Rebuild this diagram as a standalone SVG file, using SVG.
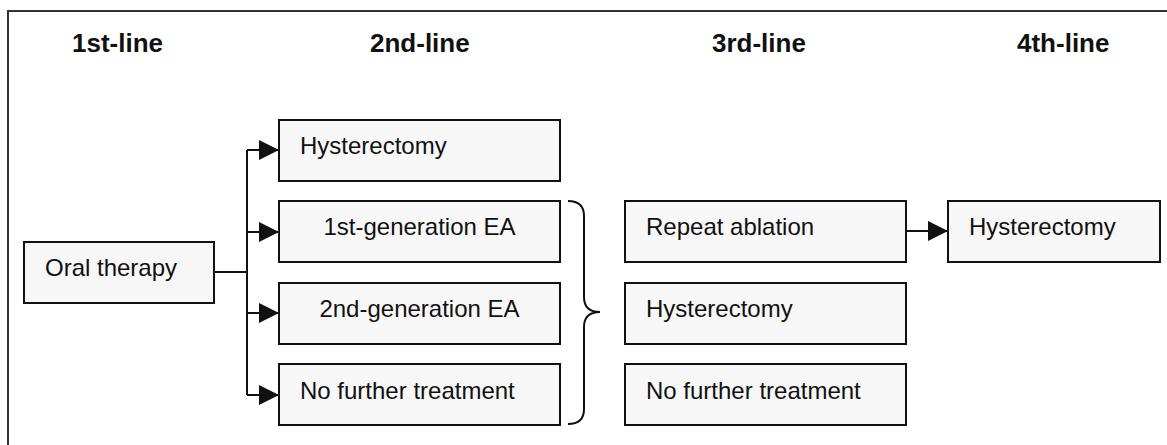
<svg xmlns="http://www.w3.org/2000/svg" width="1167" height="445" viewBox="0 0 1167 445">
<style>
.box{fill:#f7f7f7;stroke:#111;stroke-width:2}
.lbl{font-family:"Liberation Sans",Arial,sans-serif;font-size:24px;fill:#111}
.hdr{font-family:"Liberation Sans",Arial,sans-serif;font-size:26px;font-weight:bold;fill:#111}
.con{fill:none;stroke:#111;stroke-width:2}
</style>
<defs>
<marker id="arr" markerUnits="userSpaceOnUse" markerWidth="20" markerHeight="20" refX="20" refY="10" orient="auto">
<path d="M0,0 L20,10 L0,20 z" fill="#111"/>
</marker>
</defs>
<rect width="1167" height="445" fill="#fff"/>
<path d="M8,445 V11 H1167" fill="none" stroke="#333" stroke-width="2"/>
<g id="headers">
<text class="hdr" x="72" y="52">1st-line</text>
<text class="hdr" x="370" y="52">2nd-line</text>
<text class="hdr" x="712" y="52">3rd-line</text>
<text class="hdr" x="1017" y="52">4th-line</text>
</g>
<g id="oral"><rect class="box" x="24" y="242" width="190" height="61"/><text class="lbl" x="45" y="276">Oral therapy</text></g>
<g id="hyst2"><rect class="box" x="279" y="120" width="281" height="61"/><text class="lbl" x="300" y="154">Hysterectomy</text></g>
<g id="ea1"><rect class="box" x="279" y="201" width="281" height="61"/><text class="lbl" x="419.5" y="235" text-anchor="middle">1st-generation EA</text></g>
<g id="ea2"><rect class="box" x="279" y="283" width="281" height="61"/><text class="lbl" x="419.5" y="317" text-anchor="middle">2nd-generation EA</text></g>
<g id="nft2"><rect class="box" x="279" y="364" width="281" height="61"/><text class="lbl" x="300" y="399">No further treatment</text></g>
<g id="repeat"><rect class="box" x="625" y="201" width="281" height="61"/><text class="lbl" x="646" y="235">Repeat ablation</text></g>
<g id="hyst3"><rect class="box" x="625" y="283" width="281" height="61"/><text class="lbl" x="646" y="317">Hysterectomy</text></g>
<g id="nft3"><rect class="box" x="625" y="364" width="281" height="61"/><text class="lbl" x="646" y="399">No further treatment</text></g>
<g id="hyst4"><rect class="box" x="948" y="201" width="212" height="61"/><text class="lbl" x="969" y="235">Hysterectomy</text></g>
<g id="connectors">
<path class="con" d="M214,272 H247"/>
<path class="con" d="M247,150 V395"/>
<path class="con" d="M247,150 H279" marker-end="url(#arr)"/>
<path class="con" d="M247,232 H279" marker-end="url(#arr)"/>
<path class="con" d="M247,313 H279" marker-end="url(#arr)"/>
<path class="con" d="M247,395 H279" marker-end="url(#arr)"/>
<path class="con" d="M906,231 H948" marker-end="url(#arr)"/>
<path class="con" d="M568,201 C578,201 584,206 584,216 L584,297 C584,307 590,312 600,312 C590,312 584,317 584,327 L584,409 C584,419 578,424 568,424"/>
</g>
</svg>
